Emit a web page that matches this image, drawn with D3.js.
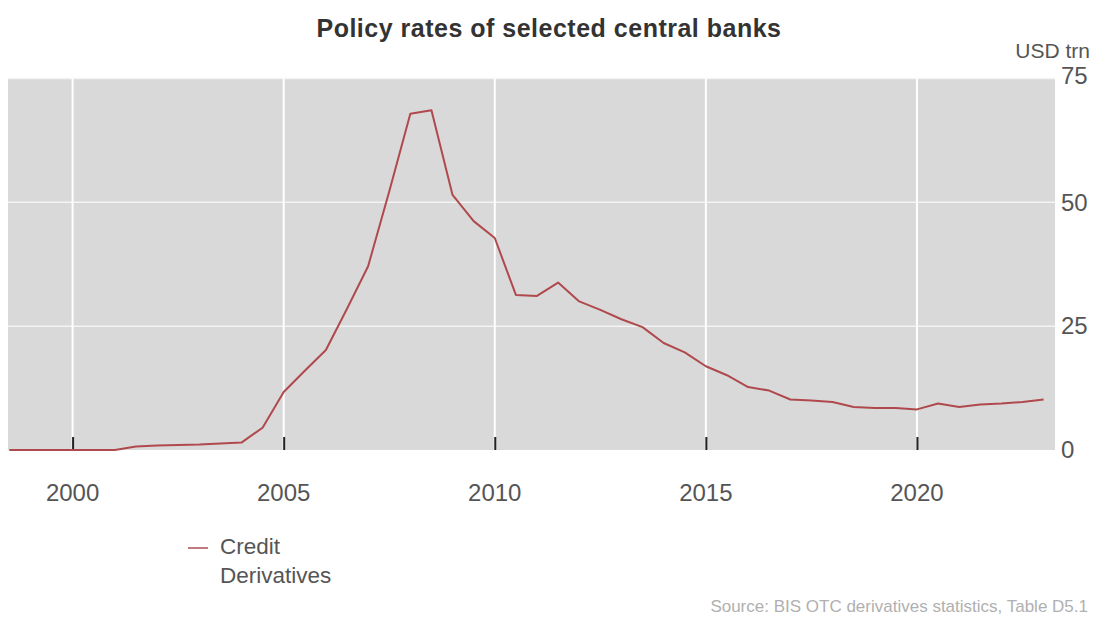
<!DOCTYPE html>
<html>
<head>
<meta charset="utf-8">
<script src="https://cdn.jsdelivr.net/npm/d3@7"></script>
<style>
  body { margin: 0; background: #fff; }
  svg { display: block; font-family: "Liberation Sans", Arial, sans-serif; }
</style>
</head>
<body>
<svg width="1094" height="621"></svg>
<script>
var periods = [1998.5, 1999.0, 1999.5, 2000.0, 2000.5, 2001.0, 2001.5, 2002.0, 2002.5, 2003.0,
  2003.5, 2004.0, 2004.5, 2005.0, 2005.5, 2006.0, 2006.5, 2007.0, 2007.5, 2008.0,
  2008.5, 2009.0, 2009.5, 2010.0, 2010.5, 2011.0, 2011.5, 2012.0, 2012.5, 2013.0,
  2013.5, 2014.0, 2014.5, 2015.0, 2015.5, 2016.0, 2016.5, 2017.0, 2017.5, 2018.0,
  2018.5, 2019.0, 2019.5, 2020.0, 2020.5, 2021.0, 2021.5, 2022.0, 2022.5, 2023.0];
var creditDerivatives = [0, 0, 0, 0, 0, 0, 0.7, 0.9, 1.0, 1.1,
  1.3, 1.5, 4.5, 11.7, 16.0, 20.2, 28.5, 37.1, 52.2, 67.9,
  68.6, 51.5, 46.2, 42.8, 31.3, 31.1, 33.8, 30.0, 28.3, 26.4,
  24.8, 21.6, 19.7, 16.9, 15.1, 12.7, 12.0, 10.2, 10.0, 9.7,
  8.7, 8.5, 8.5, 8.2, 9.4, 8.7, 9.2, 9.4, 9.7, 10.2];
var xTicks = [2000, 2005, 2010, 2015, 2020];
var yTicks = [0, 25, 50, 75];

var svg = d3.select("svg");
var plotLeft = 8, plotRight = 1055, plotTop = 78.5, plotBottom = 450;

var x = d3.scaleLinear().domain([1998.47, 2023.27]).range([plotLeft, plotRight]);
var y = d3.scaleLinear().domain([0, 75]).range([plotBottom, plotTop]);

svg.append("text")
    .attr("x", 549).attr("y", 37)
    .attr("text-anchor", "middle")
    .style("font-size", "25px").style("font-weight", "bold")
    .style("letter-spacing", "0.5px")
    .style("fill", "#333")
    .text("Policy rates of selected central banks");

svg.append("text")
    .attr("x", 1090).attr("y", 58)
    .attr("text-anchor", "end")
    .style("font-size", "21px").style("fill", "#555")
    .text("USD trn");

svg.append("rect")
    .attr("x", plotLeft).attr("y", plotTop)
    .attr("width", plotRight - plotLeft).attr("height", plotBottom - plotTop)
    .style("fill", "#d9d9d9");

// gridlines
svg.append("g").selectAll("line")
  .data(yTicks.filter(function(d) { return d > 0; }))
  .enter().append("line")
    .attr("x1", plotLeft).attr("x2", plotRight)
    .attr("y1", function(d) { return y(d); }).attr("y2", function(d) { return y(d); })
    .style("stroke", "#f4f4f4").style("stroke-width", 1.5);

svg.append("g").selectAll("line")
  .data(xTicks)
  .enter().append("line")
    .attr("x1", function(d) { return x(d); }).attr("x2", function(d) { return x(d); })
    .attr("y1", plotTop).attr("y2", plotBottom)
    .style("stroke", "#fff").style("stroke-width", 2);

// x axis: short dark ticks inside the plot, labels below
var xAxis = svg.append("g")
    .attr("transform", "translate(0," + plotBottom + ")")
    .call(d3.axisTop(x).tickValues(xTicks).tickSize(13).tickFormat(""));
xAxis.select(".domain").remove();
xAxis.selectAll(".tick line").style("stroke", "#222").style("stroke-width", 2);

svg.append("g").selectAll("text")
  .data(xTicks)
  .enter().append("text")
    .attr("x", function(d) { return x(d); })
    .attr("y", 500.5)
    .attr("text-anchor", "middle")
    .style("font-size", "24px").style("fill", "#555")
    .text(function(d) { return d; });

var yAxis = svg.append("g")
    .attr("transform", "translate(1061,0)")
    .call(d3.axisRight(y).tickValues(yTicks).tickSize(0).tickPadding(0));
yAxis.select(".domain").remove();
yAxis.selectAll("text")
    .style("font-size", "24px").style("fill", "#555")
    .style("font-family", "'Liberation Sans', Arial, sans-serif");
yAxis.selectAll(".tick").filter(function(d) { return d === 75; })
    .select("text").attr("dy", "0.2em");

var line = d3.line()
    .x(function(d, i) { return x(periods[i]); })
    .y(function(d) { return y(d); });

svg.append("path")
    .datum(creditDerivatives)
    .attr("d", line)
    .style("fill", "none")
    .style("stroke", "#b0494d")
    .style("stroke-width", 2)
    .style("stroke-linejoin", "round");

// legend
var legend = svg.append("g");
legend.append("line")
    .attr("x1", 188).attr("x2", 208).attr("y1", 548).attr("y2", 548)
    .style("stroke", "#c07a80").style("stroke-width", 2);
legend.append("text")
    .attr("x", 220).attr("y", 554)
    .style("font-size", "22.5px").style("fill", "#555")
    .selectAll("tspan")
    .data(["Credit", "Derivatives"])
    .enter().append("tspan")
      .attr("x", 220)
      .attr("dy", function(d, i) { return i ? 29 : 0; })
      .text(function(d) { return d; });

svg.append("text")
    .attr("x", 1088).attr("y", 612)
    .attr("text-anchor", "end")
    .style("font-size", "17px").style("fill", "#b0b0b0")
    .text("Source: BIS OTC derivatives statistics, Table D5.1");
</script>
</body>
</html>
